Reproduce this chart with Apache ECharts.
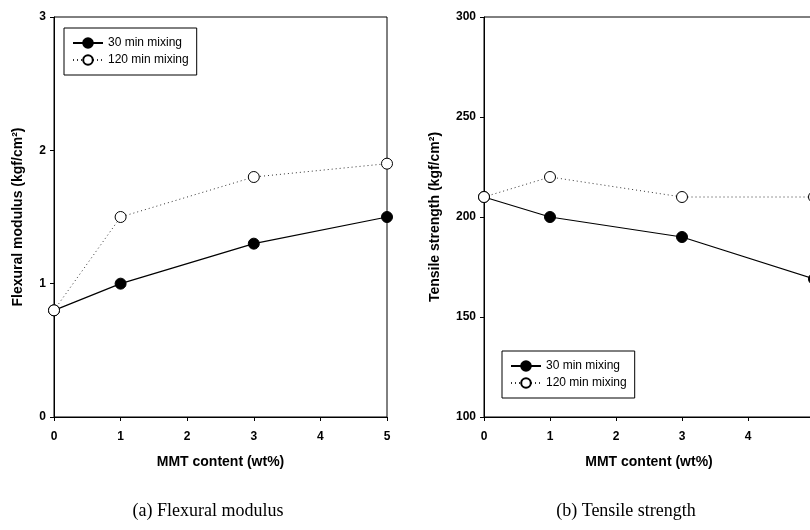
<!DOCTYPE html>
<html>
<head>
<meta charset="utf-8">
<script src="https://cdn.jsdelivr.net/npm/echarts@6/dist/echarts.min.js"></script>
<style>
  html, body { margin: 0; padding: 0; background: #fff; }
  #chart { width: 810px; height: 530px; }
</style>
</head>
<body>
<div id="chart"></div>
<script>
// MMT content (wt%)
const mmt = [0, 1, 3, 5];
const seriesNames = ["30 min mixing", "120 min mixing"];

// (a) Flexural modulus
const flex30 = [0.8, 1.0, 1.3, 1.5];
const flex120 = [0.8, 1.5, 1.8, 1.9];

// (b) Tensile strength
const tens30 = [210, 200, 190, 169];
const tens120 = [210, 220, 210, 210];

const captions = ["(a) Flexural modulus", "(b) Tensile strength"];

const pairs = (xs, ys) => xs.map((x, i) => [x, ys[i]]);

const font = "Liberation Sans";

const chart = echarts.init(document.getElementById("chart"));

function xAxisFor(gridIndex) {
    return {
        gridIndex,
        type: "value",
        min: 0,
        max: 5,
        interval: 1,
        name: "MMT content (wt%)",
        nameLocation: "middle",
        nameGap: 38,
        nameTextStyle: { fontFamily: font, fontSize: 14, fontWeight: "bold", color: "#000" },
        axisLine: { onZero: false, lineStyle: { color: "#000", width: 1 } },
        axisTick: { show: true, length: 4, lineStyle: { color: "#000" } },
        axisLabel: { fontFamily: font, fontSize: 12, fontWeight: "bold", color: "#000", margin: 14 },
        splitLine: { show: false }
    };
}

function yAxisFor(gridIndex, min, max, interval, name, gap) {
    return {
        gridIndex,
        type: "value",
        min, max, interval,
        name,
        nameLocation: "middle",
        nameGap: gap,
        nameTextStyle: { fontFamily: font, fontSize: 14, fontWeight: "bold", color: "#000" },
        axisLine: { show: true, lineStyle: { color: "#000", width: 1 } },
        axisTick: { show: true, length: 4, lineStyle: { color: "#000" } },
        axisLabel: { fontFamily: font, fontSize: 12, fontWeight: "bold", color: "#000", margin: 8 },
        splitLine: { show: false }
    };
}

function legendFor(left, top) {
    return {
        left, top,
        orient: "vertical",
        data: seriesNames,
        backgroundColor: "#fff",
        borderColor: "#000",
        borderWidth: 1,
        borderRadius: 0,
        padding: [9, 8, 9, 8],
        itemGap: 5,
        itemWidth: 30,
        itemHeight: 12,
        selectedMode: false,
        textStyle: { fontFamily: font, fontSize: 12, color: "#000" }
    };
}

const solid = {
    type: "line",
    symbol: "circle",
    symbolSize: 11,
    itemStyle: { color: "#000", borderColor: "#000", borderWidth: 1 },
    lineStyle: { color: "#000", width: 1.2, type: "solid" }
};

const dotted = {
    type: "line",
    symbol: "circle",
    symbolSize: 11,
    itemStyle: { color: "#fff", borderColor: "#000", borderWidth: 1 },
    lineStyle: { color: "#333", width: 1, type: [1, 3] }
};

chart.setOption({
    backgroundColor: "#fff",
    animation: false,
    title: [
        {
            text: captions[0], left: 203, top: 497, textAlign: "center",
            textStyle: { fontFamily: "Liberation Serif", fontSize: 18, fontWeight: "normal", color: "#000" }
        },
        {
            text: captions[1], left: 621, top: 497, textAlign: "center",
            textStyle: { fontFamily: "Liberation Serif", fontSize: 18, fontWeight: "normal", color: "#000" }
        }
    ],
    legend: [legendFor(64, 28), legendFor(502, 351)],
    grid: [
        { left: 54, width: 333, top: 17, height: 400, show: true, borderColor: "#000", borderWidth: 1, outerBoundsMode: "none" },
        { left: 484, width: 330, top: 17, height: 400, show: true, borderColor: "#000", borderWidth: 1, outerBoundsMode: "none" }
    ],
    xAxis: [xAxisFor(0), xAxisFor(1)],
    yAxis: [
        yAxisFor(0, 0, 3, 1, "Flexural modulus (kgf/cm²)", 29),
        yAxisFor(1, 100, 300, 50, "Tensile strength (kgf/cm²)", 42)
    ],
    series: [
        { ...solid, name: seriesNames[0], xAxisIndex: 0, yAxisIndex: 0, data: pairs(mmt, flex30), z: 3 },
        { ...dotted, name: seriesNames[1], xAxisIndex: 0, yAxisIndex: 0, data: pairs(mmt, flex120), z: 4 },
        { ...solid, name: seriesNames[0], xAxisIndex: 1, yAxisIndex: 1, data: pairs(mmt, tens30), z: 3 },
        { ...dotted, name: seriesNames[1], xAxisIndex: 1, yAxisIndex: 1, data: pairs(mmt, tens120), z: 4 }
    ]
});
</script>
</body>
</html>
